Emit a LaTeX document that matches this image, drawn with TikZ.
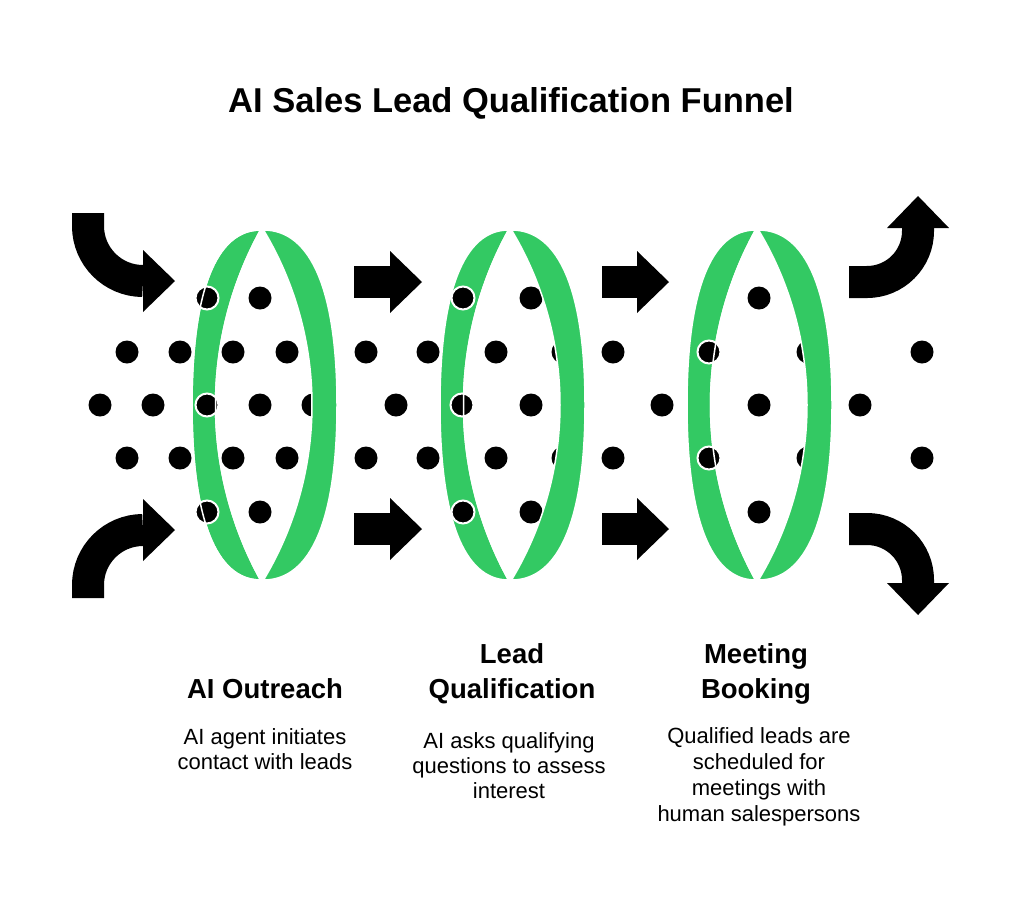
\documentclass[tikz,border=0pt]{standalone}
\usepackage{fontspec}
\setmainfont{Liberation Sans}
\usetikzlibrary{arrows.meta}
\definecolor{ringgreen}{RGB}{51,201,99}

\tikzset{
  leaddot/.style={fill=black},
  frontdot/.style={fill=black, draw=white, line width=2},
  crescent/.style={fill=ringgreen, draw=white, line width=1.5},
  ringseam/.style={draw=white, line width=1.5},
  bigarrow/.style={line width=32, -{Triangle[width=62pt,length=32pt,line width=0pt]}},
  titletext/.style={anchor=base, font=\fontsize{34.5}{40}\selectfont\bfseries},
  headtext/.style={anchor=base, font=\fontsize{27.5}{33}\selectfont\bfseries},
  desctext/.style={anchor=base, font=\fontsize{22}{26}\selectfont}
}

\begin{document}
\begin{tikzpicture}[x=1pt, y=1pt]
    \fill[white] (0,0) rectangle (1024,-900);

    \node[titletext] (title) at(511,-112){AI Sales Lead Qualification Funnel};

    % dots behind the rings
    \fill[leaddot] (260,-298) circle (11.5) (531,-298) circle (11.5) (759,-298) circle (11.5);
    \fill[leaddot] (127,-352) circle (11.5) (180,-352) circle (11.5) (233,-352) circle (11.5)
        (287,-352) circle (11.5) (366,-352) circle (11.5) (428,-352) circle (11.5)
        (496,-352) circle (11.5) (563,-352) circle (11.5) (613,-352) circle (11.5)
        (808,-352) circle (11.5) (922,-352) circle (11.5);
    \fill[leaddot] (100,-405) circle (11.5) (153,-405) circle (11.5) (260,-405) circle (11.5)
        (313,-405) circle (11.5) (396,-405) circle (11.5) (531,-405) circle (11.5)
        (662,-405) circle (11.5) (759,-405) circle (11.5) (860,-405) circle (11.5);
    \fill[leaddot] (127,-458) circle (11.5) (180,-458) circle (11.5) (233,-458) circle (11.5)
        (287,-458) circle (11.5) (366,-458) circle (11.5) (428,-458) circle (11.5)
        (496,-458) circle (11.5) (563,-458) circle (11.5) (613,-458) circle (11.5)
        (808,-458) circle (11.5) (922,-458) circle (11.5);
    \fill[leaddot] (260,-512) circle (11.5) (531,-512) circle (11.5) (759,-512) circle (11.5);

    % rings: front and back crescents
    \path[crescent] (260.5,-230) .. controls (216,-230) and (192,-291.25) .. (192,-405)
        .. controls (192,-518.75) and (216,-580) .. (260.5,-580)
        arc[start angle=208.84, end angle=151.16, radius=362.8] -- cycle;
    \path[crescent] (263.5,-230) .. controls (311.3,-230) and (337,-291.25) .. (337,-405)
        .. controls (337,-518.75) and (311.3,-580) .. (263.5,-580)
        arc[start angle=-30.98, end angle=30.98, radius=340] -- cycle;

    \begin{scope}[xshift=248pt]
    \path[crescent] (260.5,-230) .. controls (216,-230) and (192,-291.25) .. (192,-405)
        .. controls (192,-518.75) and (216,-580) .. (260.5,-580)
        arc[start angle=208.84, end angle=151.16, radius=362.8] -- cycle;
    \path[crescent] (263.5,-230) .. controls (311.3,-230) and (337,-291.25) .. (337,-405)
        .. controls (337,-518.75) and (311.3,-580) .. (263.5,-580)
        arc[start angle=-30.98, end angle=30.98, radius=340] -- cycle;
    \end{scope}

    \begin{scope}[xshift=495pt]
    \path[crescent] (260.5,-230) .. controls (216,-230) and (192,-291.25) .. (192,-405)
        .. controls (192,-518.75) and (216,-580) .. (260.5,-580)
        arc[start angle=208.84, end angle=151.16, radius=362.8] -- cycle;
    \path[crescent] (263.5,-230) .. controls (311.3,-230) and (337,-291.25) .. (337,-405)
        .. controls (337,-518.75) and (311.3,-580) .. (263.5,-580)
        arc[start angle=-30.98, end angle=30.98, radius=340] -- cycle;
    \end{scope}

    % dots in front of the rings
    \filldraw[frontdot] (207,-298) circle (11.5) (207,-405) circle (11.5) (207,-512) circle (11.5);
    \filldraw[frontdot] (463,-298) circle (11.5) (462,-405) circle (11.5) (463,-512) circle (11.5);
    \filldraw[frontdot] (709,-352) circle (11.5) (709,-458) circle (11.5);

    % seams of the front crescents over the dots
    \draw[ringseam] (260.5,-230) .. controls (216,-230) and (192,-291.25) .. (192,-405)
        .. controls (192,-518.75) and (216,-580) .. (260.5,-580)
        arc[start angle=208.84, end angle=151.16, radius=362.8];
    \draw[ringseam, xshift=248pt] (260.5,-580) arc[start angle=208.84, end angle=151.16, radius=362.8];
    \draw[ringseam, xshift=495pt] (260.5,-580) arc[start angle=208.84, end angle=151.16, radius=362.8];

    % arrows
    \draw[bigarrow] (88,-213)--(88,-226) arc[start angle=180, end angle=270, radius=55]--(175,-281);
    \draw[bigarrow] (88,-598)--(88,-585) arc[start angle=180, end angle=90, radius=55]--(175,-530);

    \draw[bigarrow] (354,-282)--(422,-282);
    \draw[bigarrow] (354,-529)--(422,-529);
    \draw[bigarrow] (602,-282)--(669,-282);
    \draw[bigarrow] (602,-529)--(669,-529);

    \draw[bigarrow] (849,-282)--(867,-282) arc[start angle=270, end angle=360, radius=51]--(918,-196);
    \draw[bigarrow] (849,-529)--(867,-529) arc[start angle=90, end angle=0, radius=51]--(918,-615);

    % stage texts
    \node[headtext] (outreach) at(265,-698){AI Outreach};
    \node[desctext] (outreach1) at(265,-744){AI agent initiates};
    \node[desctext] (outreach2) at(265,-769){contact with leads};

    \node[headtext] (qualify1) at(512,-663){Lead};
    \node[headtext] (qualify2) at(512,-698){Qualification};
    \node[desctext] (qualifytext1) at(509,-748){AI asks qualifying};
    \node[desctext] (qualifytext2) at(509,-773){questions to assess};
    \node[desctext] (qualifytext3) at(509,-798){interest};

    \node[headtext] (booking1) at(756,-663){Meeting};
    \node[headtext] (booking2) at(756,-698){Booking};
    \node[desctext] (bookingtext1) at(759,-743){Qualified leads are};
    \node[desctext] (bookingtext2) at(759,-769){scheduled for};
    \node[desctext] (bookingtext3) at(759,-795){meetings with};
    \node[desctext] (bookingtext4) at(759,-821){human salespersons};

\end{tikzpicture}
\end{document}
